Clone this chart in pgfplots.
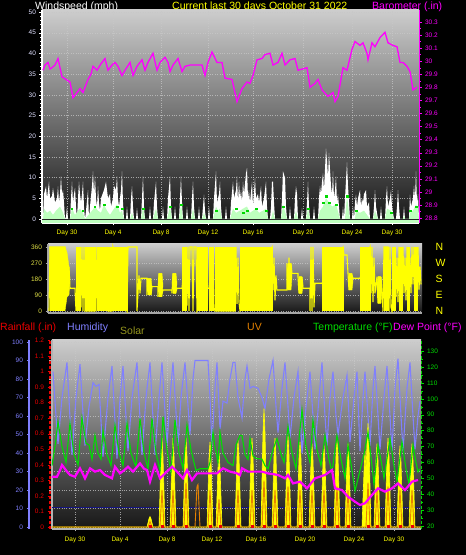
\documentclass[border=0pt]{standalone}
\usepackage{fontspec}
\setmainfont{Liberation Sans}
\usepackage{pgfplots}
\pgfplotsset{compat=1.18}
\definecolor{hum}{RGB}{128,128,255}
\definecolor{tmp}{RGB}{0,220,0}
\definecolor{dew}{RGB}{255,0,255}
\definecolor{sol}{RGB}{255,255,0}
\definecolor{uvc}{RGB}{230,130,0}
\definecolor{rain}{RGB}{235,0,0}
\definecolor{navyl}{RGB}{20,20,130}
\definecolor{bgtop}{RGB}{205,205,205}
\definecolor{bgbot}{RGB}{22,22,22}
\definecolor{gridc}{RGB}{200,200,200}
\definecolor{lgreen}{RGB}{190,255,190}
\definecolor{daycol}{RGB}{255,255,0}
\definecolor{windlab}{RGB}{225,225,255}
\definecolor{dirlab}{RGB}{225,225,70}
\definecolor{solarlab}{RGB}{150,150,30}
\pgfplotsset{
  panel/.style={scale only axis, anchor=south west,
    axis background/.style={shade, top color=bgtop, bottom color=bgbot},
    /pgf/number format/assume math mode=true,
    tick label style={font=\fontsize{6.5}{7}\selectfont},
    major grid style={gridc, dotted, line width=0.5pt, opacity=0.75},
    tick align=outside, major tick length=2.5pt, minor tick length=1.5pt},
  over/.style={scale only axis, anchor=south west, axis x line=none,
    /pgf/number format/assume math mode=true,
    tick label style={font=\fontsize{6.5}{7}\selectfont},
    tick align=outside, major tick length=2.5pt, minor tick length=1.5pt},
}
\begin{document}
\begin{tikzpicture}
\fill[black] (0,0) rectangle (466pt,555pt);
% titles
\node[anchor=base west, white, font=\fontsize{10.5}{12}\selectfont, inner sep=0] at (35pt,545pt) {Windspeed (mph)};
\node[anchor=base west, daycol, font=\fontsize{10.5}{12}\selectfont, inner sep=0] at (172pt,545pt) {Current last 30 days October 31 2022};
\node[anchor=base west, dew, font=\fontsize{10.5}{12}\selectfont, inner sep=0] at (372pt,545pt) {Barometer (.in)};
\node[anchor=base west, rain, font=\fontsize{10.5}{12}\selectfont, inner sep=0] at (0pt,224pt) {Rainfall (.in)};
\node[anchor=base west, hum, font=\fontsize{10.5}{12}\selectfont, inner sep=0] at (67pt,224pt) {Humidity};
\node[anchor=base west, solarlab, font=\fontsize{10.5}{12}\selectfont, inner sep=0] at (120pt,220pt) {Solar};
\node[anchor=base west, uvc, font=\fontsize{10.5}{12}\selectfont, inner sep=0] at (247pt,224pt) {UV};
\node[anchor=base west, tmp, font=\fontsize{10.5}{12}\selectfont, inner sep=0] at (313pt,224pt) {Temperature (°F)};
\node[anchor=base west, dew, font=\fontsize{10.5}{12}\selectfont, inner sep=0] at (393pt,224pt) {Dew Point (°F)};

% ================= Panel 1: wind speed =================
\begin{axis}[panel, at={(42pt,332pt)}, width=377pt, height=213pt,
  xmin=42, xmax=419, ymin=-0.97, ymax=50.5,
  axis x line*=bottom, axis y line*=left,
  axis line style={white, line width=1.2pt},
  xtick={67,113,161,208,253,303,352,392},
  xticklabels={Day 30,Day 4,Day 8,Day 12,Day 16,Day 20,Day 24,Day 30},
  x tick label style={daycol, yshift=-1pt},
  ytick={0,5,...,50}, minor y tick num=4,
  y tick label style={windlab},
  tick style={white},
  grid=major]
\addplot[draw=none, fill=lgreen] coordinates {(42,-0.97)(42,0)(419,0)(419,-0.97)};
\addplot[draw=none, fill=white] coordinates {
(43,0)(44,6)(46,7.9)(47,5)(49,9)(50,5)(52,5.5)(53,7.5)(55,4)(57,5)(58,7.9)(59,4)(60,6)(61,10.3)(62,6)(63,7)(64,4)(65,0)(66,0.5)(67,3)(68,0)(70,0)(71,5)(72,9)(73,4)(74,6)(75,7.5)(76,3)(77,0)(78,5)(79,9)(80,6)(81,4)(82,6)(83,9)(84,3)(85,0)(86,2)(88,7)(89,0)(90,3)(92,8)(93,11.5)(94,6)(95,10.3)(96,5)(97,3)(98,7.9)(99,4)(100,2)(101,5)(104,7)(106,9)(107,7)(108,5)(110,6)(111,3)(113,5)(114,8)(116,7)(117,10.3)(118,5)(119,3)(121,7)(122,11.5)(123,4)(124,0)(126,0)(127,3)(128,0)(130,0)(131,5)(132,7.9)(133,3)(134,0)(136,0)(137,2.7)(138,0)(141,0)(142,5)(143,10.3)(144,3)(145,0)(149,0)(150,3)(151,0)(153,0)(154,4)(156,9)(157,3)(158,0)(162,0)(163,3)(164,0)(167,0)(168,5)(170,10.3)(171,3)(172,0)(174,0)(175,3)(176,0)(179,0)(180,5)(181,10.3)(182,4)(183,0)(186,0)(187,3)(188,0)(191,0)(192,5)(193,9)(194,3)(195,0)(198,0)(199,3)(200,0)(202,0)(203,3)(204,5.9)(205,2)(206,0)(208,0)(209,3)(210,0)(213,0)(214,5)(216,11.5)(217,4)(219,6)(220,9)(221,3)(222,0)(225,0)(226,3)(227,0)(230,0)(231,4)(233,9)(234,5)(236,7)(237,10.3)(238,4)(239,9)(240,5)(241,7)(242,4)(243,9)(244,6)(246,11)(247,12.3)(248,5)(249,7)(250,4)(252,9)(253,3)(255,9.9)(256,5)(258,6)(259,4)(261,7.9)(262,3)(264,5)(266,9)(267,3)(268,0)(270,0)(271,3)(272,9)(273,9)(274,4)(275,0)(281,0)(282,5)(283,11.5)(285,10)(286,3)(287,0)(289,0)(290,3)(291,0)(294,0)(295,5)(296,7.9)(297,6)(298,0)(301,0)(302,2.7)(303,0)(306,0)(307,4)(308,9)(309,3)(310,0)(313,0)(314,3)(315,0)(318,0)(319,5)(320,8)(321,6)(322,9)(323,11)(324,7)(325,12)(326,17)(327,14)(328,10)(329,16)(330,12)(331,8)(332,6)(333,11.5)(334,5)(335,7)(336,10.3)(337,4)(338,6)(339,3)(340,0)(342,0)(343,3)(344,0)(345,5)(347,13.7)(348,8)(349,4)(350,0)(352,0)(353,3)(354,0)(355,4)(356,5.9)(357,3)(358,5)(360,7)(361,3)(362,5)(363,4)(364,6)(366,7)(367,3)(369,4)(370,0)(373,0)(374,3)(375,7)(376,3)(378,0)(380,0)(381,3)(382,0)(385,0)(386,5)(387,7.9)(388,3)(390,5)(391,7)(392,3)(394,0)(396,0)(397,3)(398,7)(399,3)(400,0)(403,0)(404,3)(405,0)(409,0)(410,5.9)(411,3)(413,5)(414,8)(415,5)(416,11.5)(417,4)(418,6)(419,0)
} \closedcycle;
\addplot[draw=none, fill=lgreen] coordinates {
(43,0)(44,2.5)(47,1.5)(50,2)(53,1)(56,2)(60,3)(63,1.5)(65,0)(70,0)(72,2.5)(75,1)(78,2)(80,2.5)(83,1.5)(85,0)(92,2)(95,3)(98,2)(101,1.5)(104,3.5)(107,2)(110,1)(114,2.5)(117,3.5)(120,1.5)(122,2)(124,0)(130,0)(132,1.5)(134,0)(141,0)(143,3)(145,0)(153,0)(156,2.5)(158,0)(167,0)(170,3)(172,0)(179,0)(181,3.5)(183,0)(191,0)(193,2.5)(195,0)(202,0)(204,1.5)(206,0)(213,0)(216,3)(218,2)(220,2.5)(222,0)(230,0)(233,2.5)(236,1.5)(240,2)(243,2.5)(247,3)(250,1.5)(253,2)(256,2.5)(259,1.5)(263,2)(266,2.5)(268,0)(271,0)(273,2)(275,0)(281,0)(283,3.5)(286,1)(287,0)(294,0)(296,2)(298,0)(306,0)(308,2.5)(310,0)(318,0)(320,2)(323,3)(326,5)(329,4)(332,3)(336,3.5)(339,1)(340,0)(345,0)(347,5.5)(349,1.5)(350,0)(355,0)(356,2)(360,1.5)(364,2)(367,1)(370,0)(373,0)(375,2)(378,0)(385,0)(387,2.5)(391,2)(394,0)(403,0)(404,1)(405,0)(409,0)(410,1.5)(413,2)(416,3.5)(418,2.5)(419,0)
} \closedcycle;
\addplot[black!85, line width=0.8pt] coordinates {(42,0)(419,0)};
\addplot[only marks, mark=square*, mark size=0.7pt, color=green!85!black] coordinates {
(72,2.5)(83,2)(95,3)(104,3.5)(117,3)(122,2.5)(143,2.5)(170,3)(181,3.5)(216,2)(236,2.5)(243,1.5)(247,2)(256,2.5)(266,2)(283,3)(308,2.5)(323,4)(326,5.5)(329,4)(336,3.5)(347,5.5)(356,2)(391,1.5)(410,2)(416,3)
};
\end{axis}
% barometer overlay
\begin{axis}[over, at={(42pt,332pt)}, width=377pt, height=213pt,
  xmin=42, xmax=419, ymin=28.762, ymax=30.391,
  axis y line*=right, axis line style={dew, line width=1pt},
  ytick={28.8,28.9,29,29.1,29.2,29.3,29.4,29.5,29.6,29.7,29.8,29.9,30,30.1,30.2,30.3},
  minor y tick num=1, tick style={dew},
  y tick label style={dew, /pgf/number format/fixed}]
\addplot[dew, line width=1.3pt] coordinates {
(43,29.93)(45,29.97)(48,29.99)(50,29.94)(52,29.95)(55,29.97)(58,30.02)(60,29.95)(62,29.88)(66,29.86)(70,29.84)(73,29.72)(76,29.75)(80,29.79)(83,29.76)(86,29.82)(88,29.86)(91,29.9)(93,29.96)(97,29.93)(101,29.98)(105,30.02)(108,29.93)(112,29.97)(115,29.99)(118,29.96)(122,29.89)(125,29.93)(130,29.99)(133,29.89)(137,29.96)(142,30.01)(145,29.93)(148,29.99)(153,30.06)(157,29.93)(160,29.99)(165,30.03)(168,29.99)(170,29.92)(173,29.97)(178,30.02)(182,29.92)(185,29.96)(190,29.97)(202,29.97)(205,29.89)(208,29.99)(212,30.07)(217,29.99)(222,29.99)(225,29.87)(232,29.86)(237,29.69)(242,29.79)(247,29.84)(250,29.83)(253,29.89)(257,30.01)(262,30.02)(265,30.05)(270,30.06)(273,29.97)(278,29.99)(282,30.06)(285,29.97)(290,30.01)(295,30.02)(298,29.93)(307,29.95)(310,29.80)(315,29.83)(318,29.86)(322,29.78)(328,29.73)(333,29.76)(335,29.69)(338,29.73)(343,29.95)(347,29.93)(352,30.09)(355,30.15)(360,30.12)(363,30.14)(367,30.06)(368,30.01)(372,30.14)(375,30.11)(380,30.18)(385,30.22)(388,30.14)(393,30.12)(397,30.11)(400,29.99)(403,29.99)(407,29.96)(410,29.92)(413,29.78)(417,29.80)
};
\end{axis}

% ================= Panel 2: wind direction =================
\begin{axis}[panel, at={(48pt,242pt)}, width=374pt, height=69pt,
  xmin=48, xmax=422, ymin=-11.25, ymax=376.9,
  axis x line*=bottom, axis y line*=left,
  axis line style={gray!70!white, line width=1.2pt},
  xtick=\empty,
  ytick={0,90,180,270,360}, y tick label style={dirlab},
  tick style={gray!70!white},
  ymajorgrids]
\addplot[sol, fill=sol] coordinates {(50,0)(50,360)(65,360)(67,330)(69,250)(70,180)(69,90)(67,80)(65,0)};
\addplot[sol, fill=sol] coordinates {(76,0)(76,360)(80,360)(80,0)};
\addplot[sol, fill=sol] coordinates {(85,0)(85,360)(95,360)(95,0)};
\addplot[sol, fill=sol] coordinates {(97,0)(97,360)(107,360)(107,0)};
\addplot[sol, fill=sol] coordinates {(108,0)(108,360)(112,360)(112,0)};
\addplot[sol, fill=sol] coordinates {(113,0)(113,360)(127,360)(127,0)};
\addplot[sol, fill=sol] coordinates {(182,0)(182,360)(186,360)(186,0)};
\addplot[sol, fill=sol] coordinates {(197,0)(197,360)(207,360)(207,0)};
\addplot[sol, fill=sol] coordinates {(209,0)(209,360)(213,360)(213,0)};
\addplot[sol, fill=sol] coordinates {(215,0)(215,360)(235,360)(235,0)};
\addplot[sol, fill=sol] coordinates {(240,0)(240,360)(272,360)(272,0)};
\addplot[sol, fill=sol] coordinates {(322,0)(322,360)(343,360)(343,0)};
\addplot[sol, fill=sol] coordinates {(360,0)(360,360)(370,360)(370,0)};
\addplot[sol, fill=sol] coordinates {(384,0)(384,360)(388,360)(388,0)};
\addplot[sol, fill=sol] coordinates {(392,0)(392,360)(395,360)(395,0)};
\addplot[sol, fill=sol] coordinates {(399,0)(399,360)(402,360)(402,0)};
\addplot[sol, fill=sol] coordinates {(407,0)(407,360)(409,360)(409,0)};
\addplot[sol, fill=sol] coordinates {(414,0)(414,360)(417,360)(417,0)};
% blobs
\addplot[sol, fill=sol] coordinates {(147,137)(148,184)(151,184)(152,137)(151,90)(148,90)};
\addplot[sol, fill=sol] coordinates {(158,146)(159,212)(162,212)(163,146)(162,80)(159,80)};
\addplot[sol, fill=sol] coordinates {(172,155)(173,212)(176,212)(177,155)(176,99)(173,99)};
\addplot[sol, fill=sol] coordinates {(287,193)(288,268)(291,268)(292,193)(291,118)(288,118)};
\addplot[sol, fill=sol] coordinates {(298,146)(299,193)(302,193)(303,146)(302,99)(299,99)};
\addplot[sol, fill=sol] coordinates {(348,165)(349,212)(352,212)(353,165)(352,118)(349,118)};
\addplot[sol, fill=sol] coordinates {(377,118)(378,193)(381,193)(382,118)(381,43)(378,43)};
\addplot[sol, line width=1.1pt] coordinates {
(49,0)(50,360)(65,360)(66,90)(67,300)(68,100)(69,250)(70,128)(75,128)(76,0)(80,360)(81,20)(82,360)(83,0)(84,360)(85,0)(95,0)(96,360)(97,0)(107,360)(108,0)(112,0)(113,360)(127,0)(128,360)(137,360)(137,0)(138,100)(139,200)(140,100)(141,184)(147,184)(147,90)(148,184)(149,100)(150,184)(151,90)(152,137)(158,137)(158,80)(159,212)(160,90)(161,212)(162,100)(163,118)(172,118)(172,99)(173,212)(174,100)(175,212)(176,110)(177,128)(182,128)(186,360)(187,30)(188,360)(189,0)(190,360)(192,360)(193,0)(194,360)(196,360)(197,0)(207,128)(209,128)(213,360)(214,20)(215,0)(235,0)(236,360)(237,40)(238,300)(239,50)(240,0)(272,360)(273,118)(274,300)(275,60)(276,200)(277,118)(287,118)(287,268)(288,120)(289,300)(290,130)(291,268)(292,212)(298,212)(298,193)(299,99)(300,193)(301,100)(302,190)(303,128)(310,128)(310,0)(311,360)(312,0)(313,360)(314,20)(315,156)(322,156)(343,360)(344,315)(347,315)(348,212)(349,118)(350,212)(351,120)(352,200)(353,184)(360,184)(370,360)(371,100)(372,360)(373,50)(374,300)(375,100)(377,193)(378,43)(379,193)(380,50)(381,190)(382,100)(383,0)(384,360)(388,360)(389,0)(390,360)(391,20)(392,0)(395,360)(396,80)(397,300)(398,50)(399,360)(402,0)(403,360)(404,100)(405,300)(406,60)(407,360)(409,0)(410,300)(411,100)(412,360)(413,150)(414,360)(417,0)(418,360)(419,120)(420,250)(421,150)
};
\end{axis}
\begin{axis}[over, at={(48pt,242pt)}, width=374pt, height=69pt,
  xmin=48, xmax=422, ymin=-11.25, ymax=376.9,
  axis y line*=right, axis line style={draw=none},
  ytick={0,90,180,270,360}, yticklabels={N,E,S,W,N},
  major tick length=0pt,
  y tick label style={daycol, font=\fontsize{10.5}{12}\selectfont, xshift=10pt}]
\addplot[draw=none] coordinates {(100,0)};
\end{axis}

% ================= Panel 3: temperature etc =================
\begin{axis}[panel, at={(52pt,26pt)}, width=369pt, height=189pt,
  xmin=52, xmax=421, ymin=-1.08, ymax=101.08,
  axis x line*=bottom, axis y line*=left,
  axis line style={gray!60!white, line width=1.2pt},
  xtick={75,120,167,212,256,305,354,394},
  xticklabels={Day 30,Day 4,Day 8,Day 12,Day 16,Day 20,Day 24,Day 30},
  x tick label style={daycol, yshift=-2pt},
  ytick={0,10,...,100}, yticklabels={},
  tick style={gray!60!white},
  grid=major]
\addplot[navyl, line width=1pt] coordinates {(52,10.3)(421,10.3)};
% humidity
\addplot[hum, line width=1.1pt] coordinates {
(53,84)(56,60)(58,45)(62,70)(67,89)(72,39)(76,70)(80,88)(85,44)(89,65)(93,78)(96,76)(99,77)(103,38)(108,70)(112,87)(117,37)(120,70)(123,87)(128,41)(132,70)(137,89)(142,39)(146,70)(150,89)(155,39)(159,70)(162,89)(167,44)(170,70)(173,89)(178,44)(181,70)(185,89)(190,50)(193,80)(195,90)(208,90)(210,70)(212,44)(215,75)(217,89)(220,53)(223,68)(227,67)(230,80)(233,89)(235,89)(238,70)(242,59)(245,80)(247,87)(250,75)(253,76)(258,75)(262,70)(265,64)(269,80)(273,90)(276,65)(278,51)(282,75)(285,89)(288,65)(290,48)(294,70)(298,84)(300,65)(302,40)(306,65)(310,84)(313,60)(315,42)(319,70)(322,89)(325,60)(327,44)(330,70)(333,84)(336,60)(338,50)(343,70)(347,82)(349,60)(350,46)(354,70)(357,84)(359,55)(360,41)(363,70)(365,84)(368,60)(370,44)(373,75)(375,87)(378,60)(380,42)(384,70)(387,87)(390,60)(392,41)(395,75)(398,91)(401,60)(403,41)(407,75)(410,89)(413,60)(415,42)(418,60)(420,68)
};
% solar
\addplot[sol, fill=sol, line width=0.6pt] coordinates {
(52,0)(147,0)(149,4.5)(150,5.6)(151,4.5)(153,0)(159,0)(161,38)(162,48)(163,38)(165,0)(170,0)(172,38)(173,48)(174,38)(176,0)(183,0)(185,38)(186,48)(187,38)(189,0)(207,0)(209,37)(210,46)(211,37)(213,0)(216,0)(218,32)(219,40)(220,32)(222,0)(235,0)(237,38)(238,47)(239,38)(241,0)(249,0)(251,38)(252,48)(253,38)(255,0)(261,0)(263,51)(264,64)(265,51)(267,0)(272,0)(274,38)(275,48)(276,38)(278,0)(285,0)(287,39)(288,49)(289,39)(291,0)(297,0)(299,37)(300,46)(301,37)(303,0)(309,0)(311,36)(312,45)(313,36)(315,0)(321,0)(323,35)(324,44)(325,35)(327,0)(334,0)(336,38)(337,47)(338,38)(340,0)(345,0)(347,36)(348,45)(349,36)(351,0)(362,0)(364,30)(365,41)(366,30)(367,45)(368,56)(369,45)(371,0)(374,0)(376,36)(377,45)(378,36)(380,0)(385,0)(387,38)(388,48)(389,38)(391,0)(397,0)(399,35)(400,44)(401,35)(403,0)(409,0)(411,36)(412,45)(413,36)(415,0)(421,0)
} \closedcycle;
% UV
\addplot[uvc, line width=0.9pt] coordinates {
(52,0)(148,0)(150,3)(152,0)(160,0)(162,20)(164,0)(171,0)(173,20)(175,0)(184,0)(186,24)(188,0)(195,0)(197,22)(198,23)(200,0)(208,0)(210,20)(212,0)(217,0)(219,15)(221,0)(236,0)(238,20)(240,0)(250,0)(252,20)(254,0)(262,0)(264,25)(266,0)(273,0)(275,20)(277,0)(286,0)(288,22)(290,0)(298,0)(300,20)(302,0)(310,0)(312,20)(314,0)(322,0)(324,20)(326,0)(335,0)(337,22)(339,0)(346,0)(348,20)(350,0)(366,0)(368,24)(370,0)(375,0)(377,20)(379,0)(386,0)(388,22)(390,0)(398,0)(400,20)(402,0)(410,0)(412,20)(414,0)(421,0)
};
\addplot[only marks, mark=square*, mark size=0.8pt, rain] coordinates {
(150,0.4)(162,0.4)(173,0.4)(186,0.4)(210,0.4)(220,0.4)(238,0.4)(252,0.4)(264,0.4)(275,0.4)(288,0.4)(300,0.4)(312,0.4)(324,0.4)(337,0.4)(348,0.4)(368,0.4)(377,0.4)(388,0.4)(400,0.4)(412,0.4)
};
\end{axis}
% temperature + dew point (right axis)
\begin{axis}[over, at={(52pt,26pt)}, width=369pt, height=189pt,
  xmin=52, xmax=421, ymin=18.11, ymax=136.98,
  axis y line*=right, axis line style={tmp, line width=1pt, densely dashed},
  ytick={20,30,...,130}, minor y tick num=1, tick style={tmp},
  y tick label style={tmp}]
\addplot[tmp, line width=1.1pt] coordinates {
(52,58)(55,70)(58,85.6)(62,70)(66,60)(70,84.6)(74,65)(78,58.4)(82,88)(86,72)(89,71)(92,62)(95,77)(98,66)(101,62)(103,80)(107,65)(111,58)(115,83.5)(119,66)(123,58)(127,84.6)(131,66)(136,57)(140,87.7)(144,66)(148,56)(152,87.7)(156,66)(160,55)(163,88.7)(167,68)(171,54)(175,86.7)(179,66)(183,56)(187,83.5)(191,68)(194,60)(196,55)(200,56)(208,56)(210,60)(213,79)(215,70)(218,60)(220,79)(223,66)(228,60)(233,58)(236,71)(240,77)(242,77)(245,65)(248,62)(250,75)(253,64)(256,62.5)(262,62)(265,58)(268,56)(273,68)(277,75)(281,65)(284,60)(288,82.5)(292,66)(296,56)(302,93)(306,70)(310,60)(313,86.7)(317,68)(321,58)(325,77)(329,62)(332,54)(337,77)(341,62)(345,50)(348,71)(352,55)(355,42)(360,55)(364,65)(368,79)(372,58)(374,46)(378,71)(382,58)(384,50)(390,75)(394,58)(397,48)(402,73)(406,56)(409,46)(413,71)(416,60)(418,54)(420,56)
};
\addplot[dew, line width=2.2pt] coordinates {
(52,51)(57,51)(60,55)(62,58.4)(67,54.2)(70,52.1)(75,51)(80,56.3)(85,50)(90,56.3)(95,54.2)(100,55.2)(105,52.1)(112,50)(115,57.3)(120,53.1)(124,55)(128,57.3)(133,54.2)(140,59.4)(144,56)(147,55.2)(150,47.9)(155,58.4)(160,50)(165,53.1)(172,57.3)(177,54.2)(183,50)(187,55.2)(192,48.9)(197,53.1)(217,53.1)(223,56.3)(230,54.2)(237,53.1)(240,52)(242,56.3)(248,54.2)(255,54.2)(262,54.2)(268,53.1)(278,52.1)(285,50)(288,52.1)(293,46.8)(300,47.9)(307,43.7)(315,50)(325,52.1)(332,55.2)(335,43.7)(342,42.6)(348,38.4)(355,35.3)(360,33.2)(365,34.3)(372,39.5)(378,43.7)(385,41.6)(392,43.7)(398,46.8)(405,42.6)(412,47.9)(418,48.9)
};
\end{axis}
% humidity left axis
\begin{axis}[over, at={(29pt,26pt)}, width=1pt, height=189pt,
  xmin=0, xmax=1, ymin=-1.08, ymax=101.08,
  axis y line*=left, axis line style={hum, line width=2pt},
  ytick={0,10,...,100}, minor y tick num=1, tick style={hum},
  y tick label style={hum}]
\addplot[draw=none] coordinates {(0.5,50)};
\end{axis}
% rainfall left axis
\begin{axis}[over, at={(50pt,26pt)}, width=1pt, height=189pt,
  xmin=0, xmax=1, ymin=-0.013, ymax=1.2026,
  axis y line*=left, axis line style={rain, line width=1.2pt, densely dashed},
  ytick={0,0.1,0.2,0.3,0.4,0.5,0.6,0.7,0.8,0.9,1,1.1,1.2}, tick style={rain},
  y tick label style={rain}]
\addplot[draw=none] coordinates {(0.5,0.5)};
\end{axis}
\end{tikzpicture}
\end{document}
